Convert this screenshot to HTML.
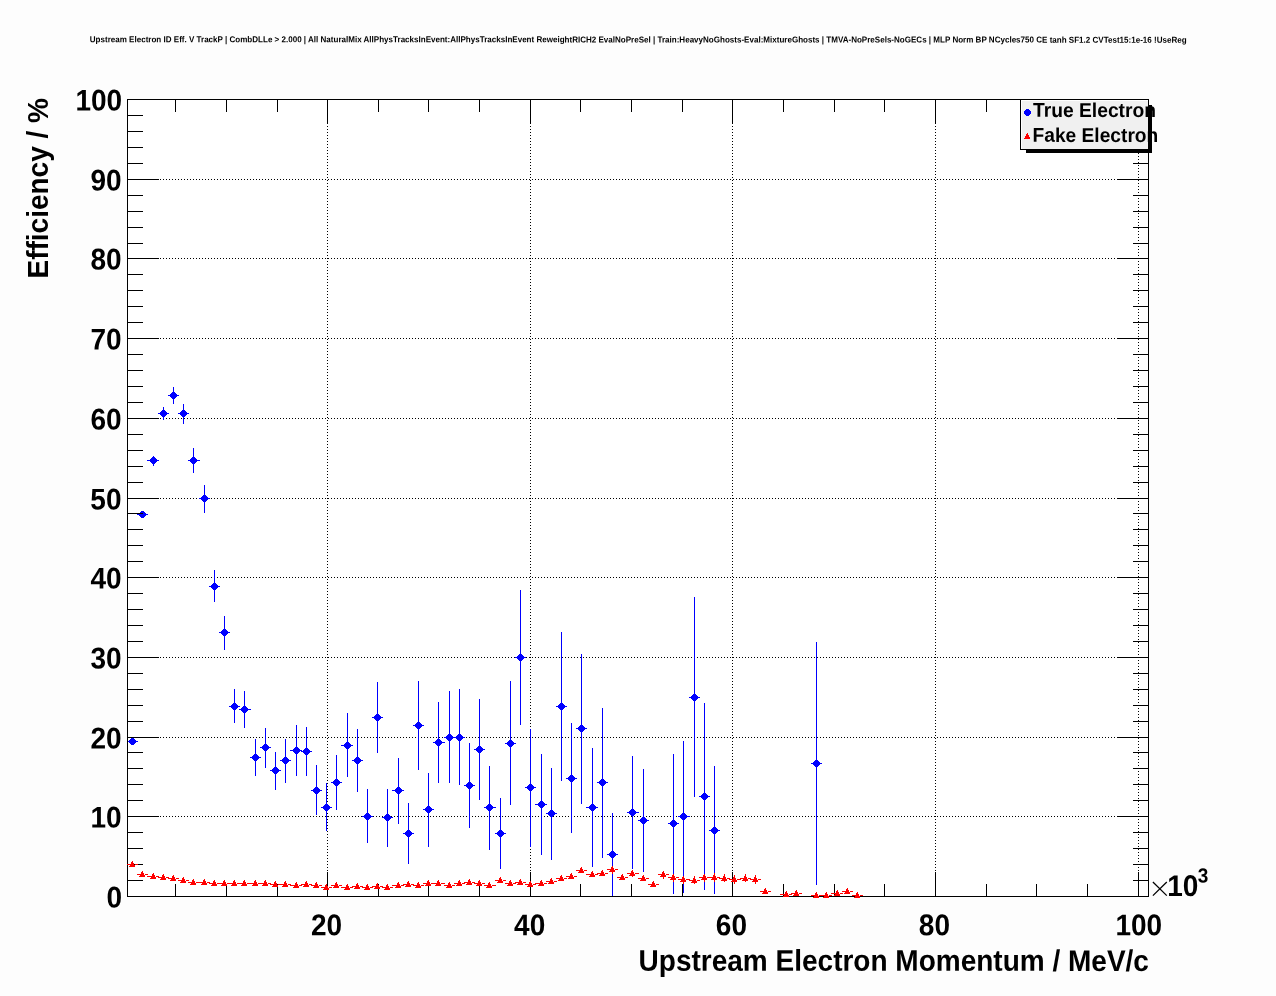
<!DOCTYPE html>
<html><head><meta charset="utf-8"><title>plot</title>
<style>
html,body{margin:0;padding:0;background:#fdfdfd;}
body{width:1276px;height:996px;position:relative;overflow:hidden;font-family:"Liberation Sans",sans-serif;font-weight:bold;color:#000;}
.t{position:absolute;white-space:nowrap;line-height:1;}
</style></head><body>
<svg width="1276" height="996" viewBox="0 0 1276 996" style="position:absolute;left:0;top:0">
<defs><path id="bc" d="M-1 -3h3v1h1v1h1v3h-1v1h-1v1h-3v-1h-1v-1h-1v-3h1v-1h1z"/><path id="tr" d="M0 -3h1v2h1v2h1v2h-6v-1h1v-2h1v-2h1z"/></defs>
<rect x="0" y="0" width="1276" height="996" fill="#fdfdfd"/>
<rect x="127" y="99" width="1022" height="798" fill="#ffffff"/>
<g shape-rendering="crispEdges" stroke="#000" stroke-width="1" stroke-dasharray="1 2"><line x1="327.5" y1="99" x2="327.5" y2="896"/><line x1="530.5" y1="99" x2="530.5" y2="896"/><line x1="732.5" y1="99" x2="732.5" y2="896"/><line x1="935.5" y1="99" x2="935.5" y2="896"/><line x1="1138.5" y1="99" x2="1138.5" y2="896"/><line x1="127" y1="816.5" x2="1149" y2="816.5"/><line x1="127" y1="737.5" x2="1149" y2="737.5"/><line x1="127" y1="657.5" x2="1149" y2="657.5"/><line x1="127" y1="577.5" x2="1149" y2="577.5"/><line x1="127" y1="498.5" x2="1149" y2="498.5"/><line x1="127" y1="418.5" x2="1149" y2="418.5"/><line x1="127" y1="338.5" x2="1149" y2="338.5"/><line x1="127" y1="258.5" x2="1149" y2="258.5"/><line x1="127" y1="179.5" x2="1149" y2="179.5"/></g>
<g stroke="#0000ff" stroke-width="1" shape-rendering="crispEdges" fill="#0000ff"><line x1="128.0" y1="741.5" x2="138.0" y2="741.5"/><line x1="137.0" y1="514.5" x2="148.0" y2="514.5"/><line x1="147.0" y1="460.5" x2="159.0" y2="460.5"/><line x1="153.5" y1="455.9" x2="153.5" y2="466.0"/><line x1="158.0" y1="413.5" x2="169.0" y2="413.5"/><line x1="163.5" y1="407.0" x2="163.5" y2="419.9"/><line x1="168.0" y1="395.5" x2="179.0" y2="395.5"/><line x1="173.5" y1="387.2" x2="173.5" y2="403.6"/><line x1="178.0" y1="413.5" x2="189.0" y2="413.5"/><line x1="183.5" y1="403.8" x2="183.5" y2="423.9"/><line x1="188.0" y1="460.5" x2="200.0" y2="460.5"/><line x1="193.5" y1="448.1" x2="193.5" y2="472.9"/><line x1="199.0" y1="498.5" x2="210.0" y2="498.5"/><line x1="204.5" y1="485.0" x2="204.5" y2="512.9"/><line x1="209.0" y1="586.5" x2="220.0" y2="586.5"/><line x1="214.5" y1="570.1" x2="214.5" y2="601.8"/><line x1="219.0" y1="632.5" x2="230.0" y2="632.5"/><line x1="224.5" y1="616.1" x2="224.5" y2="649.9"/><line x1="229.0" y1="706.5" x2="240.0" y2="706.5"/><line x1="234.5" y1="689.1" x2="234.5" y2="722.8"/><line x1="239.0" y1="709.5" x2="251.0" y2="709.5"/><line x1="244.5" y1="691.0" x2="244.5" y2="727.6"/><line x1="250.0" y1="757.5" x2="261.0" y2="757.5"/><line x1="255.5" y1="739.2" x2="255.5" y2="775.9"/><line x1="260.0" y1="747.5" x2="271.0" y2="747.5"/><line x1="265.5" y1="728.0" x2="265.5" y2="767.8"/><line x1="270.0" y1="770.5" x2="281.0" y2="770.5"/><line x1="275.5" y1="752.2" x2="275.5" y2="789.8"/><line x1="280.0" y1="760.5" x2="291.0" y2="760.5"/><line x1="285.5" y1="739.0" x2="285.5" y2="782.8"/><line x1="290.0" y1="750.5" x2="302.0" y2="750.5"/><line x1="296.5" y1="725.2" x2="296.5" y2="775.7"/><line x1="301.0" y1="751.5" x2="312.0" y2="751.5"/><line x1="306.5" y1="727.1" x2="306.5" y2="775.7"/><line x1="311.0" y1="790.5" x2="322.0" y2="790.5"/><line x1="316.5" y1="765.0" x2="316.5" y2="814.6"/><line x1="321.0" y1="807.5" x2="332.0" y2="807.5"/><line x1="326.5" y1="783.2" x2="326.5" y2="830.9"/><line x1="331.0" y1="782.5" x2="342.0" y2="782.5"/><line x1="336.5" y1="755.4" x2="336.5" y2="809.6"/><line x1="341.0" y1="745.5" x2="353.0" y2="745.5"/><line x1="347.5" y1="713.3" x2="347.5" y2="776.6"/><line x1="352.0" y1="760.5" x2="363.0" y2="760.5"/><line x1="357.5" y1="729.0" x2="357.5" y2="791.6"/><line x1="362.0" y1="816.5" x2="373.0" y2="816.5"/><line x1="367.5" y1="789.1" x2="367.5" y2="843.4"/><line x1="372.0" y1="717.5" x2="383.0" y2="717.5"/><line x1="377.5" y1="682.2" x2="377.5" y2="752.8"/><line x1="382.0" y1="817.5" x2="393.0" y2="817.5"/><line x1="387.5" y1="789.1" x2="387.5" y2="846.6"/><line x1="392.0" y1="790.5" x2="404.0" y2="790.5"/><line x1="398.5" y1="758.2" x2="398.5" y2="823.7"/><line x1="403.0" y1="833.5" x2="414.0" y2="833.5"/><line x1="408.5" y1="803.0" x2="408.5" y2="863.6"/><line x1="413.0" y1="725.5" x2="424.0" y2="725.5"/><line x1="418.5" y1="681.1" x2="418.5" y2="769.8"/><line x1="423.0" y1="809.5" x2="434.0" y2="809.5"/><line x1="428.5" y1="773.2" x2="428.5" y2="846.7"/><line x1="433.0" y1="742.5" x2="445.0" y2="742.5"/><line x1="438.5" y1="702.0" x2="438.5" y2="782.6"/><line x1="444.0" y1="737.5" x2="455.0" y2="737.5"/><line x1="449.5" y1="691.1" x2="449.5" y2="782.6"/><line x1="454.0" y1="737.5" x2="465.0" y2="737.5"/><line x1="459.5" y1="689.1" x2="459.5" y2="784.7"/><line x1="464.0" y1="785.5" x2="475.0" y2="785.5"/><line x1="469.5" y1="743.1" x2="469.5" y2="827.7"/><line x1="474.0" y1="749.5" x2="485.0" y2="749.5"/><line x1="479.5" y1="699.1" x2="479.5" y2="799.8"/><line x1="484.0" y1="807.5" x2="496.0" y2="807.5"/><line x1="489.5" y1="766.2" x2="489.5" y2="849.7"/><line x1="495.0" y1="833.5" x2="506.0" y2="833.5"/><line x1="500.5" y1="798.2" x2="500.5" y2="868.8"/><line x1="505.0" y1="743.5" x2="516.0" y2="743.5"/><line x1="510.5" y1="681.1" x2="510.5" y2="804.8"/><line x1="515.0" y1="657.5" x2="526.0" y2="657.5"/><line x1="520.5" y1="589.8" x2="520.5" y2="724.9"/><line x1="525.0" y1="787.5" x2="536.0" y2="787.5"/><line x1="530.5" y1="729.0" x2="530.5" y2="846.6"/><line x1="535.0" y1="804.5" x2="547.0" y2="804.5"/><line x1="541.5" y1="753.9" x2="541.5" y2="854.7"/><line x1="546.0" y1="813.5" x2="557.0" y2="813.5"/><line x1="551.5" y1="768.0" x2="551.5" y2="859.7"/><line x1="556.0" y1="706.5" x2="567.0" y2="706.5"/><line x1="561.5" y1="632.1" x2="561.5" y2="780.7"/><line x1="566.0" y1="778.5" x2="577.0" y2="778.5"/><line x1="571.5" y1="723.1" x2="571.5" y2="832.8"/><line x1="576.0" y1="728.5" x2="587.0" y2="728.5"/><line x1="581.5" y1="654.1" x2="581.5" y2="803.6"/><line x1="586.0" y1="807.5" x2="598.0" y2="807.5"/><line x1="592.5" y1="748.1" x2="592.5" y2="866.6"/><line x1="597.0" y1="782.5" x2="608.0" y2="782.5"/><line x1="602.5" y1="708.1" x2="602.5" y2="857.6"/><line x1="607.0" y1="854.5" x2="618.0" y2="854.5"/><line x1="612.5" y1="813.3" x2="612.5" y2="896.0"/><line x1="627.0" y1="812.5" x2="639.0" y2="812.5"/><line x1="632.5" y1="756.0" x2="632.5" y2="868.7"/><line x1="638.0" y1="820.5" x2="649.0" y2="820.5"/><line x1="643.5" y1="769.2" x2="643.5" y2="871.6"/><line x1="668.0" y1="823.5" x2="679.0" y2="823.5"/><line x1="673.5" y1="754.1" x2="673.5" y2="893.8"/><line x1="678.0" y1="816.5" x2="690.0" y2="816.5"/><line x1="683.5" y1="740.9" x2="683.5" y2="892.5"/><line x1="689.0" y1="697.5" x2="700.0" y2="697.5"/><line x1="694.5" y1="597.0" x2="694.5" y2="796.6"/><line x1="699.0" y1="796.5" x2="710.0" y2="796.5"/><line x1="704.5" y1="703.0" x2="704.5" y2="889.8"/><line x1="709.0" y1="830.5" x2="720.0" y2="830.5"/><line x1="714.5" y1="766.0" x2="714.5" y2="893.8"/><line x1="811.0" y1="763.5" x2="822.0" y2="763.5"/><line x1="816.5" y1="642.0" x2="816.5" y2="884.6"/></g><g fill="#0000ff" shape-rendering="crispEdges"><use href="#bc" x="132" y="741"/><use href="#bc" x="142" y="514"/><use href="#bc" x="153" y="460"/><use href="#bc" x="163" y="413"/><use href="#bc" x="173" y="395"/><use href="#bc" x="183" y="413"/><use href="#bc" x="193" y="460"/><use href="#bc" x="204" y="498"/><use href="#bc" x="214" y="586"/><use href="#bc" x="224" y="632"/><use href="#bc" x="234" y="706"/><use href="#bc" x="244" y="709"/><use href="#bc" x="255" y="757"/><use href="#bc" x="265" y="747"/><use href="#bc" x="275" y="770"/><use href="#bc" x="285" y="760"/><use href="#bc" x="296" y="750"/><use href="#bc" x="306" y="751"/><use href="#bc" x="316" y="790"/><use href="#bc" x="326" y="807"/><use href="#bc" x="336" y="782"/><use href="#bc" x="347" y="745"/><use href="#bc" x="357" y="760"/><use href="#bc" x="367" y="816"/><use href="#bc" x="377" y="717"/><use href="#bc" x="387" y="817"/><use href="#bc" x="398" y="790"/><use href="#bc" x="408" y="833"/><use href="#bc" x="418" y="725"/><use href="#bc" x="428" y="809"/><use href="#bc" x="438" y="742"/><use href="#bc" x="449" y="737"/><use href="#bc" x="459" y="737"/><use href="#bc" x="469" y="785"/><use href="#bc" x="479" y="749"/><use href="#bc" x="489" y="807"/><use href="#bc" x="500" y="833"/><use href="#bc" x="510" y="743"/><use href="#bc" x="520" y="657"/><use href="#bc" x="530" y="787"/><use href="#bc" x="541" y="804"/><use href="#bc" x="551" y="813"/><use href="#bc" x="561" y="706"/><use href="#bc" x="571" y="778"/><use href="#bc" x="581" y="728"/><use href="#bc" x="592" y="807"/><use href="#bc" x="602" y="782"/><use href="#bc" x="612" y="854"/><use href="#bc" x="632" y="812"/><use href="#bc" x="643" y="820"/><use href="#bc" x="673" y="823"/><use href="#bc" x="683" y="816"/><use href="#bc" x="694" y="697"/><use href="#bc" x="704" y="796"/><use href="#bc" x="714" y="830"/><use href="#bc" x="816" y="763"/></g>
<g shape-rendering="crispEdges" stroke="#000" stroke-width="1"><line x1="175.5" y1="884" x2="175.5" y2="896"/><line x1="175.5" y1="100" x2="175.5" y2="112"/><line x1="226.5" y1="884" x2="226.5" y2="896"/><line x1="226.5" y1="100" x2="226.5" y2="112"/><line x1="277.5" y1="884" x2="277.5" y2="896"/><line x1="277.5" y1="100" x2="277.5" y2="112"/><line x1="327.5" y1="872" x2="327.5" y2="896"/><line x1="327.5" y1="100" x2="327.5" y2="124"/><line x1="378.5" y1="884" x2="378.5" y2="896"/><line x1="378.5" y1="100" x2="378.5" y2="112"/><line x1="428.5" y1="884" x2="428.5" y2="896"/><line x1="428.5" y1="100" x2="428.5" y2="112"/><line x1="479.5" y1="884" x2="479.5" y2="896"/><line x1="479.5" y1="100" x2="479.5" y2="112"/><line x1="530.5" y1="872" x2="530.5" y2="896"/><line x1="530.5" y1="100" x2="530.5" y2="124"/><line x1="580.5" y1="884" x2="580.5" y2="896"/><line x1="580.5" y1="100" x2="580.5" y2="112"/><line x1="631.5" y1="884" x2="631.5" y2="896"/><line x1="631.5" y1="100" x2="631.5" y2="112"/><line x1="682.5" y1="884" x2="682.5" y2="896"/><line x1="682.5" y1="100" x2="682.5" y2="112"/><line x1="732.5" y1="872" x2="732.5" y2="896"/><line x1="732.5" y1="100" x2="732.5" y2="124"/><line x1="783.5" y1="884" x2="783.5" y2="896"/><line x1="783.5" y1="100" x2="783.5" y2="112"/><line x1="834.5" y1="884" x2="834.5" y2="896"/><line x1="834.5" y1="100" x2="834.5" y2="112"/><line x1="884.5" y1="884" x2="884.5" y2="896"/><line x1="884.5" y1="100" x2="884.5" y2="112"/><line x1="935.5" y1="872" x2="935.5" y2="896"/><line x1="935.5" y1="100" x2="935.5" y2="124"/><line x1="986.5" y1="884" x2="986.5" y2="896"/><line x1="986.5" y1="100" x2="986.5" y2="112"/><line x1="1036.5" y1="884" x2="1036.5" y2="896"/><line x1="1036.5" y1="100" x2="1036.5" y2="112"/><line x1="1087.5" y1="884" x2="1087.5" y2="896"/><line x1="1087.5" y1="100" x2="1087.5" y2="112"/><line x1="1138.5" y1="872" x2="1138.5" y2="896"/><line x1="1138.5" y1="100" x2="1138.5" y2="124"/><line x1="128" y1="896.5" x2="159" y2="896.5"/><line x1="1117" y1="896.5" x2="1148" y2="896.5"/><line x1="128" y1="880.5" x2="143" y2="880.5"/><line x1="1133" y1="880.5" x2="1148" y2="880.5"/><line x1="128" y1="864.5" x2="143" y2="864.5"/><line x1="1133" y1="864.5" x2="1148" y2="864.5"/><line x1="128" y1="848.5" x2="143" y2="848.5"/><line x1="1133" y1="848.5" x2="1148" y2="848.5"/><line x1="128" y1="832.5" x2="143" y2="832.5"/><line x1="1133" y1="832.5" x2="1148" y2="832.5"/><line x1="128" y1="816.5" x2="159" y2="816.5"/><line x1="1117" y1="816.5" x2="1148" y2="816.5"/><line x1="128" y1="800.5" x2="143" y2="800.5"/><line x1="1133" y1="800.5" x2="1148" y2="800.5"/><line x1="128" y1="784.5" x2="143" y2="784.5"/><line x1="1133" y1="784.5" x2="1148" y2="784.5"/><line x1="128" y1="768.5" x2="143" y2="768.5"/><line x1="1133" y1="768.5" x2="1148" y2="768.5"/><line x1="128" y1="752.5" x2="143" y2="752.5"/><line x1="1133" y1="752.5" x2="1148" y2="752.5"/><line x1="128" y1="737.5" x2="159" y2="737.5"/><line x1="1117" y1="737.5" x2="1148" y2="737.5"/><line x1="128" y1="721.5" x2="143" y2="721.5"/><line x1="1133" y1="721.5" x2="1148" y2="721.5"/><line x1="128" y1="705.5" x2="143" y2="705.5"/><line x1="1133" y1="705.5" x2="1148" y2="705.5"/><line x1="128" y1="689.5" x2="143" y2="689.5"/><line x1="1133" y1="689.5" x2="1148" y2="689.5"/><line x1="128" y1="673.5" x2="143" y2="673.5"/><line x1="1133" y1="673.5" x2="1148" y2="673.5"/><line x1="128" y1="657.5" x2="159" y2="657.5"/><line x1="1117" y1="657.5" x2="1148" y2="657.5"/><line x1="128" y1="641.5" x2="143" y2="641.5"/><line x1="1133" y1="641.5" x2="1148" y2="641.5"/><line x1="128" y1="625.5" x2="143" y2="625.5"/><line x1="1133" y1="625.5" x2="1148" y2="625.5"/><line x1="128" y1="609.5" x2="143" y2="609.5"/><line x1="1133" y1="609.5" x2="1148" y2="609.5"/><line x1="128" y1="593.5" x2="143" y2="593.5"/><line x1="1133" y1="593.5" x2="1148" y2="593.5"/><line x1="128" y1="577.5" x2="159" y2="577.5"/><line x1="1117" y1="577.5" x2="1148" y2="577.5"/><line x1="128" y1="561.5" x2="143" y2="561.5"/><line x1="1133" y1="561.5" x2="1148" y2="561.5"/><line x1="128" y1="545.5" x2="143" y2="545.5"/><line x1="1133" y1="545.5" x2="1148" y2="545.5"/><line x1="128" y1="529.5" x2="143" y2="529.5"/><line x1="1133" y1="529.5" x2="1148" y2="529.5"/><line x1="128" y1="513.5" x2="143" y2="513.5"/><line x1="1133" y1="513.5" x2="1148" y2="513.5"/><line x1="128" y1="498.5" x2="159" y2="498.5"/><line x1="1117" y1="498.5" x2="1148" y2="498.5"/><line x1="128" y1="482.5" x2="143" y2="482.5"/><line x1="1133" y1="482.5" x2="1148" y2="482.5"/><line x1="128" y1="466.5" x2="143" y2="466.5"/><line x1="1133" y1="466.5" x2="1148" y2="466.5"/><line x1="128" y1="450.5" x2="143" y2="450.5"/><line x1="1133" y1="450.5" x2="1148" y2="450.5"/><line x1="128" y1="434.5" x2="143" y2="434.5"/><line x1="1133" y1="434.5" x2="1148" y2="434.5"/><line x1="128" y1="418.5" x2="159" y2="418.5"/><line x1="1117" y1="418.5" x2="1148" y2="418.5"/><line x1="128" y1="402.5" x2="143" y2="402.5"/><line x1="1133" y1="402.5" x2="1148" y2="402.5"/><line x1="128" y1="386.5" x2="143" y2="386.5"/><line x1="1133" y1="386.5" x2="1148" y2="386.5"/><line x1="128" y1="370.5" x2="143" y2="370.5"/><line x1="1133" y1="370.5" x2="1148" y2="370.5"/><line x1="128" y1="354.5" x2="143" y2="354.5"/><line x1="1133" y1="354.5" x2="1148" y2="354.5"/><line x1="128" y1="338.5" x2="159" y2="338.5"/><line x1="1117" y1="338.5" x2="1148" y2="338.5"/><line x1="128" y1="322.5" x2="143" y2="322.5"/><line x1="1133" y1="322.5" x2="1148" y2="322.5"/><line x1="128" y1="306.5" x2="143" y2="306.5"/><line x1="1133" y1="306.5" x2="1148" y2="306.5"/><line x1="128" y1="290.5" x2="143" y2="290.5"/><line x1="1133" y1="290.5" x2="1148" y2="290.5"/><line x1="128" y1="274.5" x2="143" y2="274.5"/><line x1="1133" y1="274.5" x2="1148" y2="274.5"/><line x1="128" y1="258.5" x2="159" y2="258.5"/><line x1="1117" y1="258.5" x2="1148" y2="258.5"/><line x1="128" y1="243.5" x2="143" y2="243.5"/><line x1="1133" y1="243.5" x2="1148" y2="243.5"/><line x1="128" y1="227.5" x2="143" y2="227.5"/><line x1="1133" y1="227.5" x2="1148" y2="227.5"/><line x1="128" y1="211.5" x2="143" y2="211.5"/><line x1="1133" y1="211.5" x2="1148" y2="211.5"/><line x1="128" y1="195.5" x2="143" y2="195.5"/><line x1="1133" y1="195.5" x2="1148" y2="195.5"/><line x1="128" y1="179.5" x2="159" y2="179.5"/><line x1="1117" y1="179.5" x2="1148" y2="179.5"/><line x1="128" y1="163.5" x2="143" y2="163.5"/><line x1="1133" y1="163.5" x2="1148" y2="163.5"/><line x1="128" y1="147.5" x2="143" y2="147.5"/><line x1="1133" y1="147.5" x2="1148" y2="147.5"/><line x1="128" y1="131.5" x2="143" y2="131.5"/><line x1="1133" y1="131.5" x2="1148" y2="131.5"/><line x1="128" y1="115.5" x2="143" y2="115.5"/><line x1="1133" y1="115.5" x2="1148" y2="115.5"/><line x1="128" y1="99.5" x2="159" y2="99.5"/><line x1="1117" y1="99.5" x2="1148" y2="99.5"/><rect x="127.5" y="99.5" width="1021" height="797" fill="none"/></g>
<g fill="#ff0000" shape-rendering="crispEdges"><rect x="127" y="864" width="3" height="1"/><rect x="135" y="864" width="3" height="1"/><use href="#tr" x="132" y="864"/><rect x="137" y="874" width="3" height="1"/><rect x="145" y="874" width="3" height="1"/><use href="#tr" x="142" y="874"/><rect x="147" y="876" width="4" height="1"/><rect x="156" y="876" width="3" height="1"/><use href="#tr" x="153" y="876"/><rect x="158" y="877" width="3" height="1"/><rect x="166" y="877" width="3" height="1"/><use href="#tr" x="163" y="877"/><rect x="168" y="878" width="3" height="1"/><rect x="176" y="878" width="3" height="1"/><use href="#tr" x="173" y="878"/><rect x="178" y="880" width="3" height="1"/><rect x="186" y="880" width="3" height="1"/><use href="#tr" x="183" y="880"/><rect x="188" y="882" width="3" height="1"/><rect x="196" y="882" width="4" height="1"/><use href="#tr" x="193" y="882"/><rect x="199" y="882" width="3" height="1"/><rect x="207" y="882" width="3" height="1"/><use href="#tr" x="204" y="882"/><rect x="209" y="883" width="3" height="1"/><rect x="217" y="883" width="3" height="1"/><use href="#tr" x="214" y="883"/><rect x="219" y="883" width="3" height="1"/><rect x="227" y="883" width="3" height="1"/><use href="#tr" x="224" y="883"/><rect x="229" y="883" width="3" height="1"/><rect x="237" y="883" width="3" height="1"/><use href="#tr" x="234" y="883"/><rect x="239" y="883" width="3" height="1"/><rect x="247" y="883" width="4" height="1"/><use href="#tr" x="244" y="883"/><rect x="250" y="883" width="3" height="1"/><rect x="258" y="883" width="3" height="1"/><use href="#tr" x="255" y="883"/><rect x="260" y="883" width="3" height="1"/><rect x="268" y="883" width="3" height="1"/><use href="#tr" x="265" y="883"/><rect x="270" y="884" width="3" height="1"/><rect x="278" y="884" width="3" height="1"/><use href="#tr" x="275" y="884"/><rect x="280" y="884" width="3" height="1"/><rect x="288" y="884" width="3" height="1"/><use href="#tr" x="285" y="884"/><rect x="290" y="885" width="4" height="1"/><rect x="299" y="885" width="3" height="1"/><use href="#tr" x="296" y="885"/><rect x="301" y="884" width="3" height="1"/><rect x="309" y="884" width="3" height="1"/><use href="#tr" x="306" y="884"/><rect x="311" y="885" width="3" height="1"/><rect x="319" y="885" width="3" height="1"/><use href="#tr" x="316" y="885"/><rect x="321" y="887" width="3" height="1"/><rect x="329" y="887" width="3" height="1"/><use href="#tr" x="326" y="887"/><rect x="331" y="885" width="3" height="1"/><rect x="339" y="885" width="3" height="1"/><use href="#tr" x="336" y="885"/><rect x="341" y="887" width="4" height="1"/><rect x="350" y="887" width="3" height="1"/><use href="#tr" x="347" y="887"/><rect x="352" y="886" width="3" height="1"/><rect x="360" y="886" width="3" height="1"/><use href="#tr" x="357" y="886"/><rect x="362" y="887" width="3" height="1"/><rect x="370" y="887" width="3" height="1"/><use href="#tr" x="367" y="887"/><rect x="372" y="886" width="3" height="1"/><rect x="380" y="886" width="3" height="1"/><use href="#tr" x="377" y="886"/><rect x="382" y="887" width="3" height="1"/><rect x="390" y="887" width="3" height="1"/><use href="#tr" x="387" y="887"/><rect x="392" y="885" width="4" height="1"/><rect x="401" y="885" width="3" height="1"/><use href="#tr" x="398" y="885"/><rect x="403" y="884" width="3" height="1"/><rect x="411" y="884" width="3" height="1"/><use href="#tr" x="408" y="884"/><rect x="413" y="885" width="3" height="1"/><rect x="421" y="885" width="3" height="1"/><use href="#tr" x="418" y="885"/><rect x="423" y="883" width="3" height="1"/><rect x="431" y="883" width="3" height="1"/><use href="#tr" x="428" y="883"/><rect x="433" y="883" width="3" height="1"/><rect x="441" y="883" width="4" height="1"/><use href="#tr" x="438" y="883"/><rect x="444" y="885" width="3" height="1"/><rect x="452" y="885" width="3" height="1"/><use href="#tr" x="449" y="885"/><rect x="454" y="883" width="3" height="1"/><rect x="462" y="883" width="3" height="1"/><use href="#tr" x="459" y="883"/><rect x="464" y="882" width="3" height="1"/><rect x="472" y="882" width="3" height="1"/><use href="#tr" x="469" y="882"/><rect x="474" y="883" width="3" height="1"/><rect x="482" y="883" width="3" height="1"/><use href="#tr" x="479" y="883"/><rect x="484" y="885" width="3" height="1"/><rect x="492" y="885" width="4" height="1"/><use href="#tr" x="489" y="885"/><rect x="495" y="880" width="3" height="1"/><rect x="503" y="880" width="3" height="1"/><use href="#tr" x="500" y="880"/><rect x="505" y="883" width="3" height="1"/><rect x="513" y="883" width="3" height="1"/><use href="#tr" x="510" y="883"/><rect x="515" y="882" width="3" height="1"/><rect x="523" y="882" width="3" height="1"/><use href="#tr" x="520" y="882"/><rect x="525" y="884" width="3" height="1"/><rect x="533" y="884" width="3" height="1"/><use href="#tr" x="530" y="884"/><rect x="535" y="883" width="4" height="1"/><rect x="544" y="883" width="3" height="1"/><use href="#tr" x="541" y="883"/><rect x="546" y="881" width="3" height="1"/><rect x="554" y="881" width="3" height="1"/><use href="#tr" x="551" y="881"/><rect x="556" y="878" width="3" height="1"/><rect x="564" y="878" width="3" height="1"/><use href="#tr" x="561" y="878"/><rect x="566" y="876" width="3" height="1"/><rect x="574" y="876" width="3" height="1"/><use href="#tr" x="571" y="876"/><rect x="576" y="870" width="3" height="1"/><rect x="584" y="870" width="3" height="1"/><use href="#tr" x="581" y="870"/><rect x="586" y="874" width="4" height="1"/><rect x="595" y="874" width="3" height="1"/><use href="#tr" x="592" y="874"/><rect x="597" y="873" width="3" height="1"/><rect x="605" y="873" width="3" height="1"/><use href="#tr" x="602" y="873"/><rect x="607" y="869" width="3" height="1"/><rect x="615" y="869" width="3" height="1"/><rect x="612" y="872" width="1" height="2"/><use href="#tr" x="612" y="869"/><rect x="617" y="877" width="3" height="1"/><rect x="625" y="877" width="3" height="1"/><use href="#tr" x="622" y="877"/><rect x="627" y="873" width="3" height="1"/><rect x="635" y="873" width="4" height="1"/><rect x="632" y="876" width="1" height="1"/><use href="#tr" x="632" y="873"/><rect x="638" y="878" width="3" height="1"/><rect x="646" y="878" width="3" height="1"/><use href="#tr" x="643" y="878"/><rect x="648" y="884" width="3" height="1"/><rect x="656" y="884" width="3" height="1"/><use href="#tr" x="653" y="884"/><rect x="658" y="874" width="3" height="1"/><rect x="666" y="874" width="3" height="1"/><rect x="663" y="877" width="1" height="2"/><use href="#tr" x="663" y="874"/><rect x="668" y="877" width="3" height="1"/><rect x="676" y="877" width="3" height="1"/><rect x="673" y="880" width="1" height="2"/><use href="#tr" x="673" y="877"/><rect x="678" y="879" width="3" height="1"/><rect x="686" y="879" width="4" height="1"/><rect x="683" y="882" width="1" height="2"/><use href="#tr" x="683" y="879"/><rect x="689" y="880" width="3" height="1"/><rect x="697" y="880" width="3" height="1"/><rect x="694" y="876" width="1" height="1"/><rect x="694" y="883" width="1" height="1"/><use href="#tr" x="694" y="880"/><rect x="699" y="877" width="3" height="1"/><rect x="707" y="877" width="3" height="1"/><rect x="704" y="880" width="1" height="2"/><use href="#tr" x="704" y="877"/><rect x="709" y="877" width="3" height="1"/><rect x="717" y="877" width="3" height="1"/><rect x="714" y="873" width="1" height="1"/><rect x="714" y="880" width="1" height="2"/><use href="#tr" x="714" y="877"/><rect x="719" y="878" width="3" height="1"/><rect x="727" y="878" width="3" height="1"/><rect x="724" y="874" width="1" height="1"/><rect x="724" y="881" width="1" height="1"/><use href="#tr" x="724" y="878"/><rect x="729" y="879" width="3" height="1"/><rect x="737" y="879" width="4" height="1"/><rect x="734" y="875" width="1" height="1"/><rect x="734" y="882" width="1" height="2"/><use href="#tr" x="734" y="879"/><rect x="740" y="878" width="3" height="1"/><rect x="748" y="878" width="3" height="1"/><rect x="745" y="874" width="1" height="1"/><rect x="745" y="881" width="1" height="1"/><use href="#tr" x="745" y="878"/><rect x="750" y="879" width="3" height="1"/><rect x="758" y="879" width="3" height="1"/><rect x="755" y="875" width="1" height="1"/><rect x="755" y="882" width="1" height="2"/><use href="#tr" x="755" y="879"/><rect x="760" y="891" width="3" height="1"/><rect x="768" y="891" width="3" height="1"/><use href="#tr" x="765" y="891"/><rect x="780" y="894" width="4" height="1"/><rect x="789" y="894" width="3" height="1"/><use href="#tr" x="786" y="894"/><rect x="791" y="893" width="3" height="1"/><rect x="799" y="893" width="3" height="1"/><use href="#tr" x="796" y="893"/><rect x="811" y="895" width="3" height="1"/><rect x="819" y="895" width="3" height="1"/><use href="#tr" x="816" y="895"/><rect x="821" y="895" width="3" height="1"/><rect x="829" y="895" width="3" height="1"/><use href="#tr" x="826" y="895"/><rect x="831" y="893" width="4" height="1"/><rect x="840" y="893" width="3" height="1"/><use href="#tr" x="837" y="893"/><rect x="842" y="891" width="3" height="1"/><rect x="850" y="891" width="3" height="1"/><use href="#tr" x="847" y="891"/><rect x="852" y="895" width="3" height="1"/><rect x="860" y="895" width="3" height="1"/><use href="#tr" x="857" y="895"/></g>
<g shape-rendering="crispEdges"><rect x="1026" y="105" width="126" height="48" fill="#000"/><rect x="1020.5" y="99.5" width="128" height="50" fill="#f0f0f0" stroke="#000" stroke-width="1"/></g>
<path d="M1021.5 149 V100.5 H1148" fill="none" stroke="#fff" stroke-width="1" shape-rendering="crispEdges"/>
<path d="M1152.9 882 L1166.8 895.6 M1166.8 882 L1152.9 895.6" fill="none" stroke="#000" stroke-width="1.3"/>
<use href="#bc" x="1027" y="112" fill="#0000ff" shape-rendering="crispEdges"/>
<use href="#tr" x="1027" y="136" fill="#ff0000" shape-rendering="crispEdges"/>
</svg>
<div id="txt" style="position:absolute;left:0;top:0;width:1276px;height:996px;will-change:transform;">
<div class="t" id="title" style="top:36px;font-size:8.04px;height:8.04px;transform-origin:50% 6.50px;left:90px;transform:translate(0.20px,0.45px) rotate(0.03deg) scale(1.0007,1.070);">Upstream Electron ID Eff. V TrackP | CombDLLe &gt; 2.000 | All NaturalMix AllPhysTracksInEvent:AllPhysTracksInEvent ReweightRICH2 EvalNoPreSel | Train:HeavyNoGhosts-Eval:MixtureGhosts | TMVA-NoPreSels-NoGECs | MLP Norm BP NCycles750 CE tanh SF1.2 CVTest15:1e-16 !UseReg</div>
<div class="t" style="top:884px;font-size:28.00px;height:28.00px;transform-origin:50% 23.00px;right:1154px;text-align:right;transform:translate(0.43px,0.40px) rotate(0.03deg) scale(1.0000,1.070);">0</div>
<div class="t" style="top:804px;font-size:28.00px;height:28.00px;transform-origin:50% 23.00px;right:1155px;text-align:right;transform:translate(0.43px,0.40px) rotate(0.03deg) scale(1.0000,1.070);">10</div>
<div class="t" style="top:725px;font-size:28.00px;height:28.00px;transform-origin:50% 23.00px;right:1155px;text-align:right;transform:translate(0.53px,0.40px) rotate(0.03deg) scale(1.0000,1.070);">20</div>
<div class="t" style="top:645px;font-size:28.00px;height:28.00px;transform-origin:50% 23.00px;right:1155px;text-align:right;transform:translate(0.53px,0.40px) rotate(0.03deg) scale(1.0000,1.070);">30</div>
<div class="t" style="top:565px;font-size:28.00px;height:28.00px;transform-origin:50% 23.00px;right:1155px;text-align:right;transform:translate(0.53px,0.40px) rotate(0.03deg) scale(1.0000,1.070);">40</div>
<div class="t" style="top:486px;font-size:28.00px;height:28.00px;transform-origin:50% 23.00px;right:1155px;text-align:right;transform:translate(0.33px,0.40px) rotate(0.03deg) scale(1.0000,1.070);">50</div>
<div class="t" style="top:406px;font-size:28.00px;height:28.00px;transform-origin:50% 23.00px;right:1155px;text-align:right;transform:translate(0.53px,0.40px) rotate(0.03deg) scale(1.0000,1.070);">60</div>
<div class="t" style="top:326px;font-size:28.00px;height:28.00px;transform-origin:50% 23.00px;right:1155px;text-align:right;transform:translate(0.53px,0.40px) rotate(0.03deg) scale(1.0000,1.070);">70</div>
<div class="t" style="top:246px;font-size:28.00px;height:28.00px;transform-origin:50% 23.00px;right:1155px;text-align:right;transform:translate(0.53px,0.40px) rotate(0.03deg) scale(1.0000,1.070);">80</div>
<div class="t" style="top:167px;font-size:28.00px;height:28.00px;transform-origin:50% 23.00px;right:1155px;text-align:right;transform:translate(0.53px,0.40px) rotate(0.03deg) scale(1.0000,1.070);">90</div>
<div class="t" style="top:87px;font-size:28.00px;height:28.00px;transform-origin:50% 23.00px;right:1154px;text-align:right;transform:translate(0.43px,0.40px) rotate(0.03deg) scale(1.0000,1.070);">100</div>
<div class="t" style="top:912px;font-size:28.00px;height:28.00px;transform-origin:50% 23.00px;left:226px;width:200px;text-align:center;transform:translate(0.60px,0.30px) rotate(0.03deg) scale(1.0000,1.070);">20</div>
<div class="t" style="top:912px;font-size:28.00px;height:28.00px;transform-origin:50% 23.00px;left:429px;width:200px;text-align:center;transform:translate(0.70px,0.30px) rotate(0.03deg) scale(1.0000,1.070);">40</div>
<div class="t" style="top:912px;font-size:28.00px;height:28.00px;transform-origin:50% 23.00px;left:631px;width:200px;text-align:center;transform:translate(0.45px,0.30px) rotate(0.03deg) scale(1.0000,1.070);">60</div>
<div class="t" style="top:912px;font-size:28.00px;height:28.00px;transform-origin:50% 23.00px;left:834px;width:200px;text-align:center;transform:translate(0.45px,0.30px) rotate(0.03deg) scale(1.0000,1.070);">80</div>
<div class="t" style="top:912px;font-size:28.00px;height:28.00px;transform-origin:50% 23.00px;left:1038px;width:200px;text-align:center;transform:translate(0.80px,0.30px) rotate(0.03deg) scale(1.0000,1.070);">100</div>
<div class="t" id="xt" style="top:947px;font-size:28.00px;height:28.00px;transform-origin:50% 23.00px;right:128px;text-align:right;transform:translate(0.60px,0.80px) rotate(0.03deg) scale(1.0000,1.070);">Upstream Electron Momentum / MeV/c</div>
<div class="t" id="yt" style="left:48px;top:98.3px;font-size:28px;height:28px;transform-origin:0 0;transform:rotate(-90deg) translate(-100%,-24.95px) scaleY(1.085);">Efficiency / %</div>
<div class="t" id="exp" style="top:873px;font-size:28.00px;height:28.00px;transform-origin:50% 23.00px;left:1167px;transform:translate(0.20px,0.00px) rotate(0.03deg) scale(1.0000,1.070);">10</div>
<div class="t" id="exp3" style="top:866px;font-size:19.00px;height:19.00px;transform-origin:50% 16.00px;left:1197px;transform:translate(0.70px,0.50px) rotate(0.03deg) scale(1.0000,1.070);">3</div>
<div class="t" id="l1" style="top:100px;font-size:19.25px;height:19.25px;transform-origin:50% 16.00px;left:1033px;transform:translate(0.00px,0.90px) rotate(0.03deg) scale(1.0000,1.045);">True Electron</div>
<div class="t" id="l2" style="top:125px;font-size:19.25px;height:19.25px;transform-origin:50% 16.00px;left:1032px;transform:translate(0.30px,0.90px) rotate(0.03deg) scale(0.9955,1.045);">Fake Electron</div>
</div>
</body></html>
